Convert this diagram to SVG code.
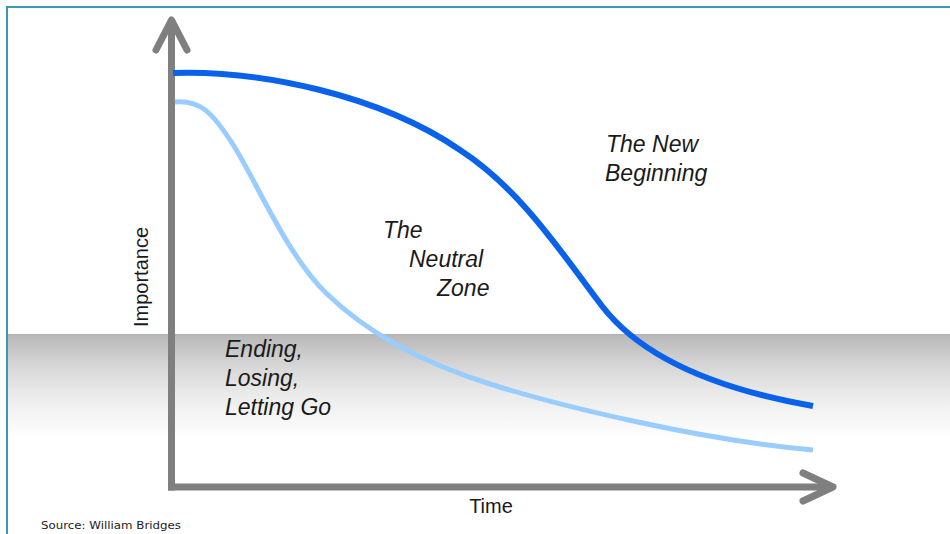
<svg xmlns="http://www.w3.org/2000/svg" width="950" height="534" viewBox="0 0 950 534">
  <defs>
    <linearGradient id="bandFade" x1="0" y1="0" x2="0" y2="1">
      <stop offset="0" stop-color="#b7b7b7"/>
      <stop offset="0.3" stop-color="#d6d6d6"/>
      <stop offset="0.6" stop-color="#ececec"/>
      <stop offset="1" stop-color="#ffffff"/>
    </linearGradient>
    <style>
      .axis { fill: none; stroke: #7f7f7f; stroke-width: 7; stroke-linecap: round; stroke-linejoin: round; }
      .axis-line { fill: none; stroke: #7f7f7f; stroke-width: 7; stroke-linecap: square; }
      .curve { fill: none; stroke-linecap: butt; stroke-linejoin: round; }
      .label { font-family: "Liberation Sans", Arial, sans-serif; font-style: italic; font-size: 23px; fill: #1a1a1a; }
      .axis-label { font-family: "Liberation Sans", Arial, sans-serif; font-size: 20px; fill: #1a1a1a; }
      .source { font-family: "DejaVu Sans", Tahoma, sans-serif; font-size: 11px; fill: #222222; }
    </style>
  </defs>

  <!-- page background and frame -->
  <rect x="0" y="0" width="950" height="534" fill="#ffffff"/>
  <rect x="8" y="334" width="942" height="104" fill="url(#bandFade)"/>
  <line x1="8" y1="334.5" x2="950" y2="334.5" stroke="#b0b0b0" stroke-width="1"/>
  <path d="M7,534 V7 H950" fill="none" stroke="#3b98ae" stroke-width="2"/>

  <!-- axes -->
  <g id="axes">
    <line class="axis-line" x1="171.5" y1="487" x2="171.5" y2="24"/>
    <path class="axis" d="M156,50 L171.5,20 L187,50"/>
    <line class="axis-line" x1="171.5" y1="487" x2="829" y2="487"/>
    <path class="axis" d="M803,473 L833,487 L803,501"/>
  </g>

  <!-- transition curves -->
  <g id="connectors">
    <path id="curve-light" class="curve" stroke="#99ccff" stroke-width="5"
          d="M175,102 C200,100 212,112 232,143 C256,180 286,254 326,293 C366,332 420,362 490,384 C560,406 700,440 813,450"/>
    <path id="curve-dark" class="curve" stroke="#0a62ea" stroke-width="6"
          d="M173,73 C260,70 380,95 460,150 C522,190 565,258 602,306 C639,354 710,388 813,406"/>
  </g>

  <!-- zone labels -->
  <g id="ending">
    <text class="label" x="225" y="357">Ending,</text>
    <text class="label" x="225" y="386">Losing,</text>
    <text class="label" x="225" y="415">Letting Go</text>
  </g>
  <g id="neutral-zone">
    <text class="label" x="383" y="238">The</text>
    <text class="label" x="409" y="267">Neutral</text>
    <text class="label" x="437" y="296">Zone</text>
  </g>
  <g id="new-beginning">
    <text class="label" x="606" y="152">The New</text>
    <text class="label" x="605" y="181">Beginning</text>
  </g>

  <!-- axis titles -->
  <g id="y-title">
    <text class="axis-label" text-anchor="middle" transform="translate(148,277) rotate(-90)">Importance</text>
  </g>
  <g id="x-title">
    <text class="axis-label" text-anchor="middle" x="491" y="513">Time</text>
  </g>

  <g id="source">
    <text class="source" x="41" y="529" textLength="140" lengthAdjust="spacingAndGlyphs">Source: William Bridges</text>
  </g>
</svg>
